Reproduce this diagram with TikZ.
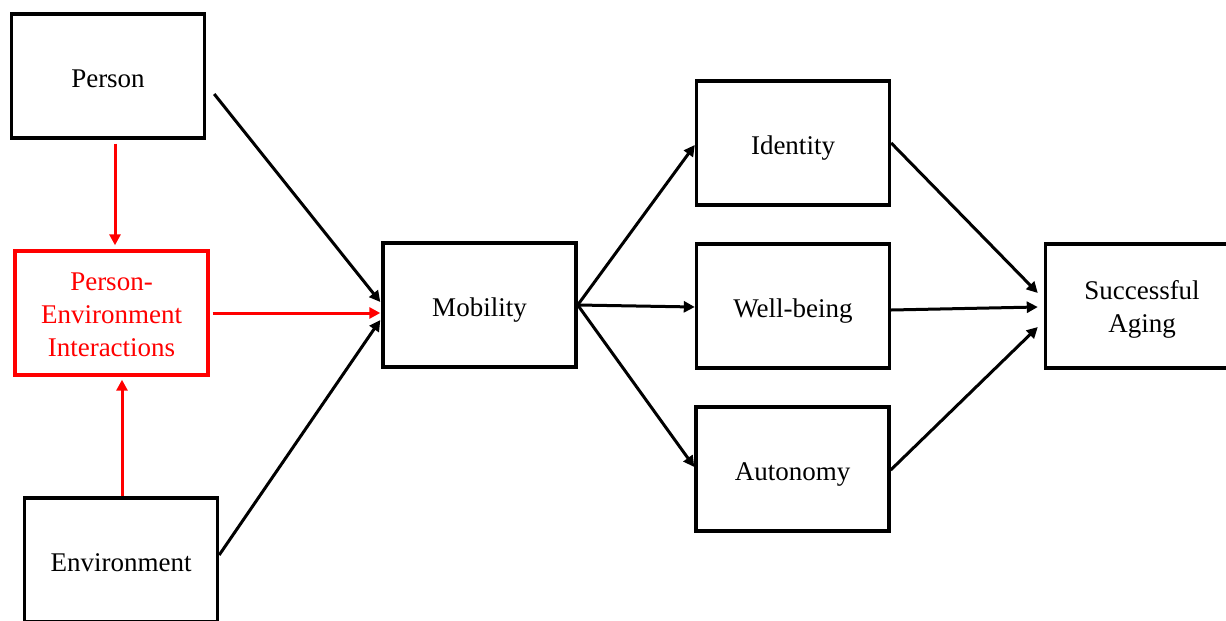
\documentclass[tikz,border=0pt]{standalone}
\usepackage{fontspec}
\setmainfont{Liberation Serif}
\usetikzlibrary{arrows.meta}
\definecolor{pered}{RGB}{255,0,0}
\newcommand\firstline{\rule{0pt}{13pt}}
\tikzset{
  box/.style={draw=black, line width=1.7pt, fill=white, minimum width=96.5pt,
    minimum height=62pt, inner sep=2pt, align=center,
    font=\fontsize{13.5pt}{16.5pt}\selectfont},
  onebox/.style={box, text height=11pt, text depth=0pt},
  redbox/.style={box, draw=pered, text=pered},
  link/.style={line width=1.5pt, -{Triangle[length=5.5pt,width=5.5pt]}},
  redlink/.style={link, draw=pered}
}
\begin{document}
\begin{tikzpicture}[x=0.5pt,y=-0.5pt]
\useasboundingbox (0,0) rectangle (1226,621);
\fill[white] (0,0) rectangle (1226,621);

% blocks
\node[onebox] (person) at (108,76) {Person};
\node[redbox] (pei) at (111.5,313) {\rule{0pt}{11pt}Person-\\Environment\\Interactions};
\node[onebox] (env) at (121,560) {Environment};
\node[onebox] (mob) at (479.5,305) {Mobility};
\node[onebox] (ident) at (793,143) {Identity};
\node[onebox] (well) at (793,306) {Well-being};
\node[onebox] (auto) at (792.5,469) {Autonomy};
\node[box] (sa) at (1142,306) {\firstline Successful\\Aging};

% person / environment interactions
\draw[redlink] ([xshift=3.5pt,yshift=-2pt]person.south) -- ([xshift=1.75pt,yshift=2pt]pei.north);
\draw[redlink] ([xshift=0.5pt]env.north) -- ([xshift=5.25pt,yshift=-1.5pt]pei.south);
\draw[redlink] ([xshift=1.5pt]pei.east) -- ([xshift=-0.5pt,yshift=-4pt]mob.west);

% into mobility
\draw[link] ([xshift=4pt,yshift=-9pt]person.east) -- ([xshift=-0.5pt,yshift=1.5pt]mob.west);
\draw[link] ([yshift=2.5pt]env.east) -- ([xshift=-0.5pt,yshift=-7.5pt]mob.west);

% out of mobility
\draw[link] (mob.east) -- ([yshift=-1pt]ident.west);
\draw[link] (mob.east) -- ([yshift=-0.5pt]well.west);
\draw[link] (mob.east) -- ([yshift=1pt]auto.west);

% into successful aging
\draw[link] (ident.east) -- ([xshift=-3pt,yshift=6.5pt]sa.west);
\draw[link] ([yshift=-2pt]well.east) -- ([xshift=-3pt,yshift=-0.5pt]sa.west);
\draw[link] ([yshift=-0.5pt]auto.east) -- ([xshift=-3pt,yshift=-10.5pt]sa.west);
\end{tikzpicture}
\end{document}
